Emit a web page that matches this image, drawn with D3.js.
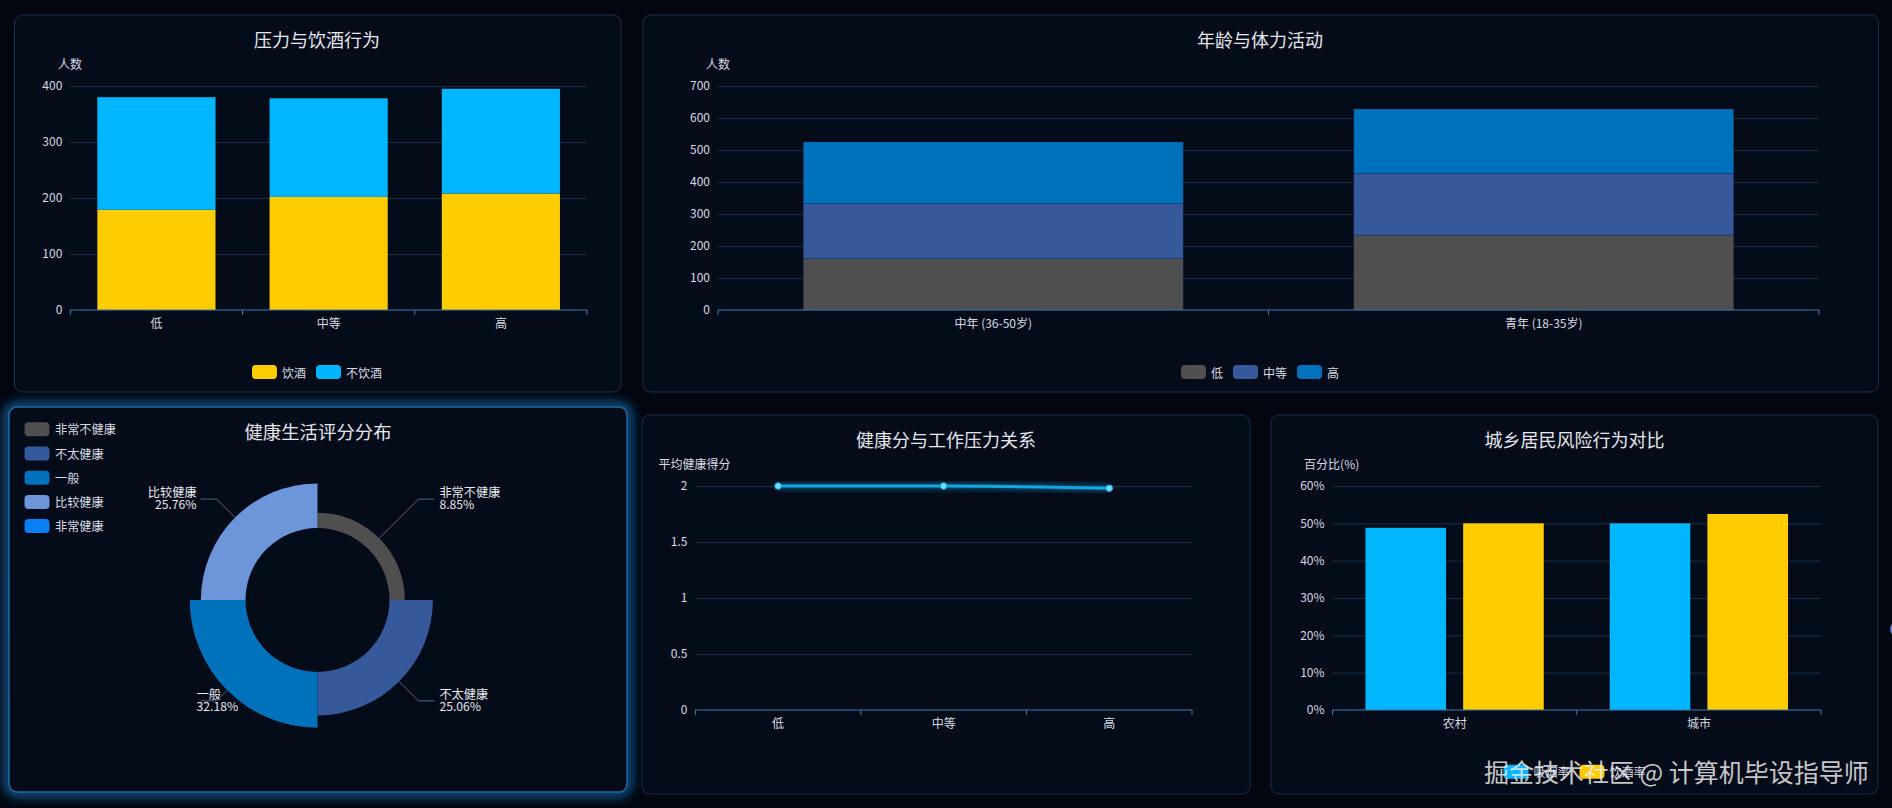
<!DOCTYPE html>
<html><head><meta charset="utf-8">
<script src="https://cdn.jsdelivr.net/npm/d3@7/dist/d3.min.js"></script>
<style>
html,body{margin:0;padding:0;background:#02060f;overflow:hidden;}
svg{display:block;font-family:"Microsoft YaHei","Noto Sans CJK SC","Noto Sans",sans-serif;}
</style></head><body>
<svg id="c" width="1892" height="808"></svg>
<script>
// ---------- DATA ----------
const stressLevels = ["低", "中等", "高"];
const drinkSeries = ["饮酒", "不饮酒"];
const drinkValues = [179, 202, 208];
const noDrinkValues = [201, 176, 187];
const drinkTicks = [0, 100, 200, 300, 400];

const ageGroups = ["中年 (36-50岁)", "青年 (18-35岁)"];
const activityLevels = ["低", "中等", "高"];
const activityLow = [161, 234];
const activityMid = [172, 193];
const activityHigh = [192, 201];
const activityTicks = [0, 100, 200, 300, 400, 500, 600, 700];

const healthCats = ["非常不健康", "不太健康", "一般", "比较健康", "非常健康"];
const healthPercents = [8.85, 25.06, 32.18, 25.76]; // 非常健康: no sector shown

const scoreLevels = ["低", "中等", "高"];
const scoreValues = [2.0, 2.0, 1.98];
const scoreTicks = [0, 0.5, 1, 1.5, 2];

const regions = ["农村", "城市"];
const riskSeries = ["吸烟率", "饮酒率"];
const smokingRates = [48.8, 50.0];
const drinkingRates = [50.0, 52.5];
const rateTicks = [0, 10, 20, 30, 40, 50, 60];

// ---------- STYLE ----------
const C = {
  grid: "#16304a", axis: "#3f7cae", text: "#d6dbe3", title: "#e4e8ee",
  fill: "#040b19", stroke: "#15304a"
};
const drinkColors = ["#ffcc00", "#00b7ff"];
const activityColors = ["#4f4f4f", "#36599b", "#0071bb"];
const pieColors = ["#4f4f4f", "#36599b", "#0071bb", "#6d95da", "#0a7ef5"];
const riskColors = ["#00b7ff", "#ffcc00"];

const svg = d3.select("#c");
const defs = svg.append("defs");
const gf = defs.append("filter").attr("id", "pglow").attr("x", "-10%").attr("y", "-10%").attr("width", "120%").attr("height", "120%");
gf.append("feGaussianBlur").attr("stdDeviation", 6);
const lf = defs.append("filter").attr("id", "lglow").attr("x", "-10%").attr("y", "-200%").attr("width", "120%").attr("height", "500%");
lf.append("feGaussianBlur").attr("in", "SourceGraphic").attr("stdDeviation", 3).attr("result", "b");
const mg = lf.append("feMerge"); mg.append("feMergeNode").attr("in", "b"); mg.append("feMergeNode").attr("in", "SourceGraphic");

function panel(x, y, w, h, glow) {
  if (glow) {
    svg.append("rect").attr("x", x).attr("y", y).attr("width", w).attr("height", h).attr("rx", 8)
      .attr("fill", "none").attr("stroke", "#1670b5").attr("stroke-width", 9).attr("filter", "url(#pglow)").attr("opacity", 0.9);
  }
  svg.append("rect").attr("x", x).attr("y", y).attr("width", w).attr("height", h).attr("rx", 8)
    .attr("fill", C.fill).attr("stroke", glow ? "#1d6aa5" : C.stroke).attr("stroke-width", glow ? 1.5 : 1);
  return svg.append("g");
}
function title(g, txt, cx, cy, fs) {
  g.append("text").attr("x", cx).attr("y", cy).attr("text-anchor", "middle").attr("dominant-baseline", "central")
    .attr("fill", C.title).attr("font-size", fs || 18).text(txt);
}
function label(g, txt, x, y, anchor, fs) {
  return g.append("text").attr("x", x).attr("y", y).attr("text-anchor", anchor || "middle").attr("dominant-baseline", "central")
    .attr("fill", C.text).attr("font-size", fs || 12).text(txt);
}
function yAxis(g, y, ticks, x0, x1, fmt) {
  const ax = g.append("g").attr("transform", `translate(${x0},0)`)
    .call(d3.axisLeft(y).tickValues(ticks).tickSize(-(x1 - x0)).tickPadding(8).tickFormat(fmt || (d => d)));
  ax.attr("font-family", null).attr("font-size", 12);
  ax.select(".domain").remove();
  ax.selectAll(".tick line").attr("stroke", C.grid).attr("stroke-width", 1);
  ax.selectAll(".tick").filter(d => d === 0).select("line").remove();
  ax.selectAll(".tick text").attr("fill", C.text);
}
function xAxis(g, x, yBase, x0, x1) {
  const ax = g.append("g").attr("transform", `translate(0,${yBase})`).call(d3.axisBottom(x).tickSize(0).tickPadding(9));
  ax.attr("font-family", null).attr("font-size", 12);
  ax.select(".domain").remove();
  ax.selectAll("text").attr("fill", C.text);
  g.append("line").attr("x1", x0).attr("x2", x1).attr("y1", yBase).attr("y2", yBase).attr("stroke", C.axis).attr("stroke-width", 1.2);
  const bounds = x.domain().map(d => x(d)).concat([x1]);
  g.selectAll(null).data(bounds).join("line").attr("x1", d => d).attr("x2", d => d)
    .attr("y1", yBase).attr("y2", yBase + 5).attr("stroke", C.axis);
}
function hLegend(g, items, colors, cx, cy) {
  const lg = g.append("g");
  let xp = 0;
  items.forEach((name, i) => {
    lg.append("rect").attr("x", xp).attr("y", cy - 7).attr("width", 25).attr("height", 14).attr("rx", 4).attr("fill", colors[i]);
    const t = lg.append("text").attr("x", xp + 30).attr("y", cy).attr("dominant-baseline", "central")
      .attr("fill", C.text).attr("font-size", 12).text(name);
    xp += 30 + t.node().getComputedTextLength() + 10;
  });
  lg.attr("transform", `translate(${cx - (xp - 10) / 2},0)`);
}

// ---------- PANEL 1: 压力与饮酒行为 ----------
{
  const g = panel(14.5, 15, 606.5, 377);
  title(g, "压力与饮酒行为", 317, 39);
  const x = d3.scaleBand().domain(stressLevels).range([70.3, 587]);
  const y = d3.scaleLinear().domain([0, 400]).range([310, 86]);
  label(g, "人数", 70, 63);
  yAxis(g, y, drinkTicks, 70.3, 587);
  const rows = stressLevels.map((s, i) => ({ cat: s, [drinkSeries[0]]: drinkValues[i], [drinkSeries[1]]: noDrinkValues[i] }));
  const st = d3.stack().keys(drinkSeries)(rows);
  const bw = x.bandwidth() * 0.686;
  g.append("g").selectAll("g").data(st).join("g").attr("fill", (d, i) => drinkColors[i])
    .selectAll("rect").data(d => d).join("rect")
    .attr("x", d => x(d.data.cat) + (x.bandwidth() - bw) / 2).attr("width", bw)
    .attr("y", d => y(d[1])).attr("height", d => y(d[0]) - y(d[1]));
  xAxis(g, x, 310, 70.3, 587);
  hLegend(g, drinkSeries, drinkColors, 317, 372);
}

// ---------- PANEL 2: 年龄与体力活动 ----------
{
  const g = panel(643, 15, 1235.5, 377);
  title(g, "年龄与体力活动", 1260, 39);
  const x = d3.scaleBand().domain(ageGroups).range([718, 1819]);
  const y = d3.scaleLinear().domain([0, 700]).range([310, 86]);
  label(g, "人数", 718, 63);
  yAxis(g, y, activityTicks, 718, 1819);
  const rows = ageGroups.map((a, i) => ({ cat: a, [activityLevels[0]]: activityLow[i], [activityLevels[1]]: activityMid[i], [activityLevels[2]]: activityHigh[i] }));
  const st = d3.stack().keys(activityLevels)(rows);
  const bw = x.bandwidth() * 0.69;
  g.append("g").selectAll("g").data(st).join("g").attr("fill", (d, i) => activityColors[i])
    .selectAll("rect").data(d => d).join("rect")
    .attr("x", d => x(d.data.cat) + (x.bandwidth() - bw) / 2).attr("width", bw)
    .attr("y", d => y(d[1])).attr("height", d => y(d[0]) - y(d[1]))
    .attr("stroke", "rgba(20,50,100,0.5)").attr("stroke-width", 0.8);
  xAxis(g, x, 310, 718, 1819);
  hLegend(g, activityLevels, activityColors, 1260, 372);
}

// ---------- PANEL 3: 健康生活评分分布 ----------
{
  const g = panel(9, 407, 618, 385, true);
  title(g, "健康生活评分分布", 318, 431, 18.4);
  // legend (vertical)
  healthCats.forEach((name, i) => {
    const cy = 429.3 + i * 24.2;
    g.append("rect").attr("x", 24.5).attr("y", cy - 7).attr("width", 25).attr("height", 14).attr("rx", 4).attr("fill", pieColors[i]);
    label(g, name, 55, cy, "start", 12.2);
  });
  const cx = 317.5, cy = 600, r0 = 72, rMax = 127.7;
  const rScale = d3.scaleLinear().domain([0, d3.max(healthPercents)]).range([r0, rMax]);
  const pd = d3.pie().value(() => 1).sort(null)(healthPercents.map((v, i) => ({ name: healthCats[i], v, i })));
  const arc = d3.arc().innerRadius(r0).outerRadius(d => rScale(d.data.v));
  g.append("g").attr("transform", `translate(${cx},${cy})`).selectAll("path").data(pd).join("path")
    .attr("d", arc).attr("fill", d => pieColors[d.data.i]);
  pd.forEach(d => {
    const a = (d.startAngle + d.endAngle) / 2;
    const ro = rScale(d.data.v), rb = rMax + 15;
    const p0 = [cx + ro * Math.sin(a), cy - ro * Math.cos(a)];
    const p1 = [cx + rb * Math.sin(a), cy - rb * Math.cos(a)];
    const right = Math.sin(a) > 0;
    const p2 = [p1[0] + (right ? 16 : -16), p1[1]];
    g.append("polyline").attr("points", [p0, p1, p2].map(p => p.join(",")).join(" "))
      .attr("fill", "none").attr("stroke", "#55667d").attr("stroke-width", 1);
    const tx = right ? p2[0] + 5 : p1[0] - 20;
    const anchor = right ? "start" : (Math.cos(a) > 0 ? "end" : "start");
    [d.data.name, d.data.v.toFixed(2) + "%"].forEach((t, k) => {
      g.append("text").attr("x", tx).attr("y", p1[1] - 7 + k * 12.3).attr("text-anchor", anchor)
        .attr("dominant-baseline", "central").attr("fill", "#e6e9ee").attr("font-size", 12.2).text(t);
    });
  });
}

// ---------- PANEL 4: 健康分与工作压力关系 ----------
{
  const g = panel(642, 415, 608, 379);
  title(g, "健康分与工作压力关系", 946, 439);
  const x = d3.scaleBand().domain(scoreLevels).range([695.3, 1192]);
  const y = d3.scaleLinear().domain([0, 2]).range([710, 486]);
  label(g, "平均健康得分", 694.5, 463.5);
  yAxis(g, y, scoreTicks, 695.3, 1192);
  xAxis(g, x, 710, 695.3, 1192);
  const pts = scoreLevels.map((s, i) => [x(s) + x.bandwidth() / 2, y(scoreValues[i])]);
  g.append("path").attr("d", d3.line().curve(d3.curveMonotoneX)(pts)).attr("fill", "none")
    .attr("stroke", "#13a6e2").attr("stroke-width", 3).attr("filter", "url(#lglow)");
  g.selectAll(null).data(pts).join("circle").attr("cx", d => d[0]).attr("cy", d => d[1]).attr("r", 3.3)
    .attr("fill", "#6fdcff").attr("stroke", "#13a6e2").attr("stroke-width", 1);
}

// ---------- PANEL 5: 城乡居民风险行为对比 ----------
{
  const g = panel(1271, 415, 607, 379);
  title(g, "城乡居民风险行为对比", 1574.5, 439);
  const x = d3.scaleBand().domain(regions).range([1332.5, 1821]);
  const y = d3.scaleLinear().domain([0, 60]).range([710, 486]);
  label(g, "百分比(%)", 1331.7, 463.5);
  yAxis(g, y, rateTicks, 1332.5, 1821, d => d + "%");
  const bw = x.bandwidth() * 0.33, gap = x.bandwidth() * 0.07;
  const off = (x.bandwidth() - 2 * bw - gap) / 2;
  const series = [smokingRates, drinkingRates];
  series.forEach((vals, si) => {
    g.append("g").selectAll("rect").data(regions).join("rect")
      .attr("x", (r) => x(r) + off + si * (bw + gap)).attr("width", bw)
      .attr("y", (r, i) => y(vals[i])).attr("height", (r, i) => 710 - y(vals[i]))
      .attr("fill", riskColors[si]);
  });
  xAxis(g, x, 710, 1332.5, 1821);
  hLegend(g, riskSeries, riskColors, 1574.5, 771.7);
}

// watermark & edge marker
svg.append("text").attr("x", 1484).attr("y", 771).attr("dominant-baseline", "central")
  .attr("fill", "rgba(235,235,235,0.85)").attr("font-size", 25).text("掘金技术社区 @ 计算机毕设指导师");
svg.append("circle").attr("cx", 1898).attr("cy", 629).attr("r", 8).attr("fill", "#5b7de8");
</script>
</body></html>
